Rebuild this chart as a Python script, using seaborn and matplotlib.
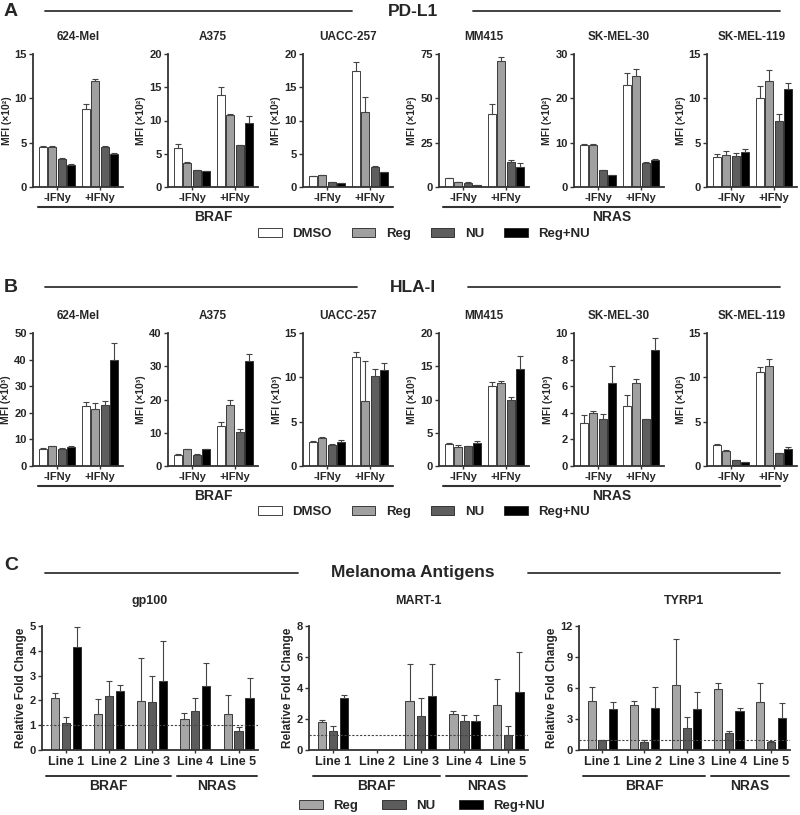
import numpy as np
import pandas as pd
import seaborn as sns
import matplotlib.pyplot as plt
from matplotlib.lines import Line2D
from matplotlib.patches import Patch
import matplotlib.transforms as mtransforms

sns.set_theme(style='ticks')
plt.rcParams['font.family'] = ['Liberation Sans', 'DejaVu Sans']
plt.rcParams['font.weight'] = 'bold'
plt.rcParams['axes.labelweight'] = 'bold'

W, H = 800, 815

# ---- data ----
cell_lines = ['624-Mel', 'A375', 'UACC-257', 'MM415', 'SK-MEL-30', 'SK-MEL-119']
conditions = ['-IFNy', '+IFNy']
treatments = ['DMSO', 'Reg', 'NU', 'Reg+NU']

# rows: cell lines; cols: -IFNy (DMSO, Reg, NU, Reg+NU), +IFNy (DMSO, Reg, NU, Reg+NU)
pdl1_mean = [
    [4.5, 4.5, 3.2, 2.5, 8.8, 11.9, 4.5, 3.7],
    [5.9, 3.65, 2.5, 2.35, 13.85, 10.85, 6.25, 9.65],
    [1.65, 1.75, 0.75, 0.6, 17.5, 11.35, 3.05, 2.25],
    [4.9, 2.8, 2.4, 0.9, 41.2, 71.3, 14.1, 11.25],
    [9.4, 9.5, 3.75, 2.7, 23.1, 25.1, 5.5, 6.2],
    [3.4, 3.65, 3.5, 4.0, 10.0, 12.0, 7.4, 11.05],
]
pdl1_err = [
    [0.1, 0.1, 0.05, 0.05, 0.6, 0.3, 0.08, 0.08],
    [0.5, 0.08, 0.05, 0.05, 1.15, 0.1, 0.1, 1.0],
    [0.05, 0.05, 0.05, 0.05, 1.3, 2.15, 0.05, 0.05],
    [0.2, 0.2, 0.2, 0.1, 5.7, 1.8, 0.9, 2.45],
    [0.25, 0.15, 0.1, 0.05, 2.6, 1.6, 0.1, 0.1],
    [0.35, 0.4, 0.35, 0.25, 1.4, 1.2, 0.8, 0.65],
]
pdl1_ymax = [15, 20, 20, 75, 30, 15]
pdl1_step = [5, 5, 5, 25, 10, 5]

hla_mean = [
    [6.5, 7.5, 6.4, 7.3, 22.6, 21.4, 22.9, 39.7],
    [3.3, 5.0, 3.4, 5.1, 12.0, 18.4, 10.35, 31.7],
    [2.75, 3.2, 2.4, 2.75, 12.28, 7.3, 10.2, 10.84],
    [3.3, 2.8, 2.95, 3.4, 12.1, 12.55, 9.95, 14.6],
    [3.25, 3.95, 3.55, 6.25, 4.5, 6.25, 3.5, 8.7],
    [2.4, 1.7, 0.65, 0.4, 10.65, 11.25, 1.45, 1.9],
]
hla_err = [
    [0.2, 0.2, 0.2, 0.2, 1.6, 2.2, 1.6, 6.5],
    [0.2, 0.1, 0.1, 0.1, 1.2, 1.6, 0.7, 2.1],
    [0.05, 0.1, 0.05, 0.2, 0.6, 4.5, 0.76, 0.76],
    [0.1, 0.3, 0.1, 0.3, 0.5, 0.2, 0.5, 1.9],
    [0.55, 0.15, 0.35, 1.25, 0.85, 0.3, 0.03, 0.9],
    [0.05, 0.05, 0.03, 0.03, 0.5, 0.8, 0.05, 0.2],
]
hla_ymax = [50, 40, 15, 20, 10, 15]
hla_step = [10, 10, 5, 5, 2, 5]
hla_units = ['³', '³', '³', '³', '³', '²']

antigens = ['gp100', 'MART-1', 'TYRP1']
lines = ['Line 1', 'Line 2', 'Line 3', 'Line 4', 'Line 5']
antigen_treatments = ['Reg', 'NU', 'Reg+NU']

# rows: Reg, NU, Reg+NU; cols: Line 1..5
gp100_mean = [[2.08, 1.45, 1.97, 1.27, 1.44],
              [1.1, 2.17, 1.92, 1.59, 0.75],
              [4.15, 2.37, 2.79, 2.6, 2.1]]
gp100_err = [[0.22, 0.59, 1.72, 0.21, 0.79],
             [0.24, 0.62, 1.06, 0.51, 0.18],
             [0.81, 0.24, 1.59, 0.89, 0.79]]
mart1_mean = [[1.81, np.nan, 3.16, 2.3, 2.92],
              [1.24, np.nan, 2.2, 1.88, 1.0],
              [3.35, np.nan, 3.48, 1.88, 3.77]]
mart1_err = [[0.11, np.nan, 2.38, 0.2, 1.68],
             [0.32, np.nan, 1.15, 0.38, 0.54],
             [0.21, np.nan, 2.06, 0.38, 2.58]]
tyrp1_mean = [[4.72, 4.4, 6.31, 5.86, 4.63],
              [0.94, 0.74, 2.17, 1.62, 0.81],
              [3.95, 4.08, 3.95, 3.82, 3.14]]
tyrp1_err = [[1.36, 0.39, 4.4, 0.64, 1.87],
             [0.03, 0.23, 1.0, 0.22, 0.05],
             [0.74, 2.0, 1.62, 0.23, 1.39]]
antigen_ymax = [5, 8, 12]
antigen_step = [1, 2, 3]

palette_a = {'DMSO': '#ffffff', 'Reg': '#a0a0a0', 'NU': '#5e5e5e', 'Reg+NU': '#000000'}
palette_c = {'Reg': '#a6a6a6', 'NU': '#5c5c5c', 'Reg+NU': '#000000'}
DARK = '#333333'


def px_rect(left, top, width, height):
    return [left / W, 1 - (top + height) / H, width / W, height / H]


def fx(x):
    return x / W


def fy(y):
    return 1 - y / H


def bar_panel(ax, df, groups, hues, palette, width, gap, errs):
    sns.barplot(data=df.dropna(), x='group', y='value', hue='treatment',
                order=groups, hue_order=hues, palette=palette,
                width=width, gap=gap, errorbar=None, edgecolor='#222222',
                linewidth=0.6, legend=False, ax=ax)
    for hue, container in zip(hues, ax.containers):
        for bar in container:
            h = bar.get_height()
            if np.isnan(h):
                continue
            xc = bar.get_x() + bar.get_width() / 2
            g = groups[int(round(xc))]
            e = errs[(g, hue)]
            ax.errorbar(xc, h, yerr=[[0], [e]], fmt='none', ecolor='#444444',
                        elinewidth=0.8, capsize=2, capthick=0.8, zorder=1)


def style_axes(ax, ymax, step):
    ax.set_ylim(0, ymax)
    ax.set_yticks(np.arange(0, ymax + step / 2, step))
    sns.despine(ax=ax)
    for s in ['left', 'bottom']:
        ax.spines[s].set_linewidth(1.3)
        ax.spines[s].set_color(DARK)
    ax.tick_params(axis='both', labelsize=8, width=1, length=3, color=DARK, pad=1.5)
    ax.tick_params(axis='x', length=2.5)
    ax.set_xlabel('')


def long_df(mean_row, err_row):
    df = pd.DataFrame({'group': np.repeat(conditions, len(treatments)),
                       'treatment': np.tile(treatments, len(conditions)),
                       'value': mean_row})
    errs = dict(zip(zip(df['group'], df['treatment']), err_row))
    return df, errs


fig = plt.figure(figsize=(W / 100, H / 100), dpi=100)
lefts = [33, 168, 303, 439, 574, 707]

# ---- panels A and B ----
panels = [
    ('A', 'PD-L1', 54, 133, pdl1_mean, pdl1_err, pdl1_ymax, pdl1_step, ['²'] * 6, 12, 207, 234, 352, 473),
    ('B', 'HLA-I', 333, 133, hla_mean, hla_err, hla_ymax, hla_step, hla_units, 288, 486, 512, 357, 468),
]
for letter, name, top, height, means, errs_all, ymaxs, steps, units, head_y, brk_y, leg_y, l_end, r_start in panels:
    for i, line in enumerate(cell_lines):
        ax = fig.add_axes(px_rect(lefts[i], top, 90, height))
        df, errs = long_df(means[i], errs_all[i])
        bar_panel(ax, df, conditions, treatments, palette_a, 0.88, 0.15, errs)
        style_axes(ax, ymaxs[i], steps[i])
        ax.set_xlim(-0.56, 1.53)
        ax.set_ylabel(f'MFI (×10{units[i]})', fontsize=7.5, labelpad=2)
        ax.set_title(line, fontsize=8.5, fontweight='bold', pad=10)

    fig.text(fx(4), fy(head_y), letter, fontsize=14, fontweight='bold', ha='left', va='center')
    fig.text(fx(413), fy(head_y), name, fontsize=12.5, fontweight='bold', ha='center', va='center')
    fig.add_artist(Line2D([fx(45), fx(l_end)], [fy(head_y - 1), fy(head_y - 1)], color=DARK, lw=1.3))
    fig.add_artist(Line2D([fx(r_start), fx(780)], [fy(head_y - 1), fy(head_y - 1)], color=DARK, lw=1.3))

    fig.add_artist(Line2D([fx(38), fx(393)], [fy(brk_y), fy(brk_y)], color=DARK, lw=1.5))
    fig.add_artist(Line2D([fx(443), fx(780)], [fy(brk_y), fy(brk_y)], color=DARK, lw=1.5))
    fig.text(fx(213), fy(brk_y + 10), 'BRAF', fontsize=10, fontweight='bold', ha='center', va='center')
    fig.text(fx(612), fy(brk_y + 10), 'NRAS', fontsize=10, fontweight='bold', ha='center', va='center')

    handles = [Patch(facecolor=palette_a[t], edgecolor='#222222', linewidth=0.6) for t in treatments]
    fig.legend(handles, treatments, loc='center', bbox_to_anchor=(fx(424), fy(leg_y)),
               ncol=4, frameon=False, fontsize=9.5, handlelength=1.8, handleheight=0.75,
               columnspacing=1.5, handletextpad=0.8)

# ---- panel C ----
c_lefts = [42, 309, 579]
c_widths = [216, 219, 211]
c_means = [gp100_mean, mart1_mean, tyrp1_mean]
c_errs = [gp100_err, mart1_err, tyrp1_err]
for i, antigen in enumerate(antigens):
    ax = fig.add_axes(px_rect(c_lefts[i], 626, c_widths[i], 124))
    df = pd.DataFrame({'group': np.tile(lines, len(antigen_treatments)),
                       'treatment': np.repeat(antigen_treatments, len(lines)),
                       'value': np.ravel(c_means[i])})
    errs = dict(zip(zip(df['group'], df['treatment']), np.ravel(c_errs[i])))
    bar_panel(ax, df, lines, antigen_treatments, palette_c, 0.76, 0.25, errs)
    ax.axhline(1, color='#444444', lw=0.8, ls=(0, (2, 1.5)), zorder=3)
    style_axes(ax, antigen_ymax[i], antigen_step[i])
    ax.tick_params(axis='x', labelsize=9)
    ax.set_xlim(-0.55, 4.45)
    ax.set_ylabel('Relative Fold Change', fontsize=8.5, labelpad=2)
    ax.set_title(antigen, fontsize=9, fontweight='bold', pad=16)

    trans = mtransforms.blended_transform_factory(ax.transData, fig.transFigure)
    for x0, x1, label in [(-0.45, 2.43, 'BRAF'), (2.58, 4.42, 'NRAS')]:
        ax.add_line(Line2D([x0, x1], [fy(776), fy(776)], color=DARK, lw=1.4,
                           transform=trans, clip_on=False))
        ax.text((x0 + x1) / 2, fy(786), label, transform=trans, fontsize=10,
                fontweight='bold', ha='center', va='center')

fig.text(fx(4), fy(566), 'C', fontsize=14, fontweight='bold', ha='left', va='center')
fig.text(fx(413), fy(573), 'Melanoma Antigens', fontsize=12.5, fontweight='bold', ha='center', va='center')
fig.add_artist(Line2D([fx(45), fx(298)], [fy(573), fy(573)], color=DARK, lw=1.3))
fig.add_artist(Line2D([fx(528), fx(780)], [fy(573), fy(573)], color=DARK, lw=1.3))

handles = [Patch(facecolor=palette_c[t], edgecolor='#222222', linewidth=0.6) for t in antigen_treatments]
fig.legend(handles, antigen_treatments, loc='center', bbox_to_anchor=(fx(422), fy(806)),
           ncol=3, frameon=False, fontsize=9.5, handlelength=1.8, handleheight=0.75,
           columnspacing=1.8, handletextpad=0.8)

fig.savefig('out.png', dpi=100)
